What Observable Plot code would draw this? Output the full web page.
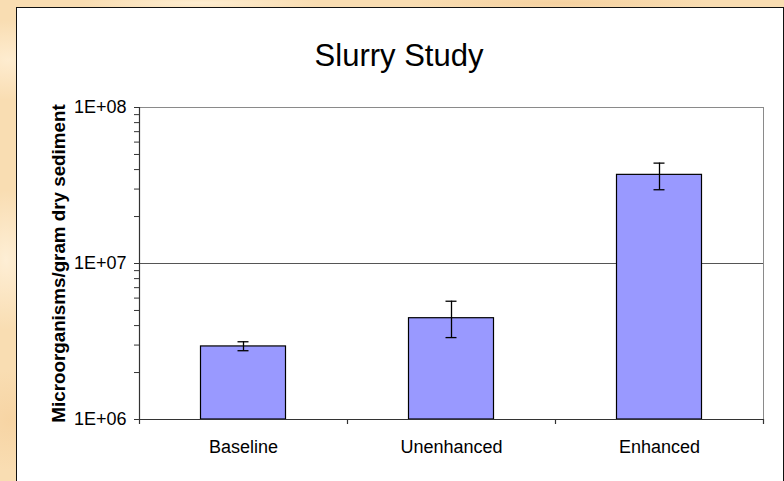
<!DOCTYPE html>
<html>
<head>
<meta charset="utf-8">
<script src="https://cdn.jsdelivr.net/npm/d3@7"></script>
<script src="https://cdn.jsdelivr.net/npm/@observablehq/plot@0.6"></script>
<style>
  html, body { margin: 0; padding: 0; }
  body {
    width: 784px; height: 481px; overflow: hidden; position: relative;
    font-family: "Liberation Sans", Arial, sans-serif;
    background-color: #f9ddb2;
    background-image:
      radial-gradient(ellipse 60px 40px at 8px 60px, rgba(255,240,215,0.8), transparent),
      radial-gradient(ellipse 40px 70px at 6px 260px, rgba(255,243,222,0.8), transparent),
      radial-gradient(ellipse 50px 50px at 10px 420px, rgba(246,210,160,0.8), transparent),
      radial-gradient(ellipse 120px 8px at 200px 3px, rgba(255,240,214,0.9), transparent),
      radial-gradient(ellipse 150px 8px at 560px 3px, rgba(245,208,158,0.9), transparent);
  }
  #panel {
    position: absolute; left: 16px; top: 7px; width: 768px; height: 500px;
    box-sizing: border-box; border: 1px solid #111; background: #fff;
  }
  #title {
    position: absolute; left: 16px; top: 40px; width: 766px;
    text-align: center; font-size: 31px; line-height: 31px; color: #000;
  }
  #chart { position: absolute; left: 17px; top: 80px; }
</style>
</head>
<body>
<div id="panel"></div>
<div id="title">Slurry Study</div>
<div id="chart"></div>
<script>
// Slurry study: microorganism counts per gram of dry sediment (log scale)
const categories = ["Baseline", "Unenhanced", "Enhanced"];
const means = [2.94e6, 4.46e6, 3.70e7];
const lower = [2.76e6, 3.35e6, 2.97e7];
const upper = [3.15e6, 5.73e6, 4.40e7];

const majorTicks = [1e6, 1e7, 1e8];
const tickLabels = ["1E+06", "1E+07", "1E+08"];
const minorSteps = [2, 3, 4, 5, 6, 7, 8, 9];
const yLabel = "Microorganisms/gram dry sediment";
const yMin = majorTicks[0];

const data = categories.map((c, i) => ({cat: c, mean: means[i], lo: lower[i], hi: upper[i]}));
const allTicks = majorTicks.concat(majorTicks.slice(0, -1).flatMap(m => minorSteps.map(s => m * s)));
const labelFor = new Map(majorTicks.map((t, i) => [t, tickLabels[i]]));

// Left axis line plus tick marks at the category boundaries
function axisFrame(index, scales, values, dims) {
  const {marginLeft, marginTop, height, marginBottom} = dims;
  const yb = height - marginBottom;
  const g = d3.create("svg:g").attr("stroke", "#333").attr("stroke-width", 1.2).attr("fill", "none");
  g.append("line").attr("x1", marginLeft + 0.5).attr("x2", marginLeft + 0.5).attr("y1", marginTop).attr("y2", yb + 0.5);
  const bw = scales.x.bandwidth();
  const bounds = categories.map(c => scales.x(c)).concat([scales.x(categories[categories.length - 1]) + bw]);
  for (const bx of bounds) {
    g.append("line").attr("x1", Math.round(bx) + 0.5).attr("x2", Math.round(bx) + 0.5).attr("y1", yb).attr("y2", yb + 5);
  }
  return g.node();
}

const chart = Plot.plot({
  width: 765,
  height: 399,
  marginLeft: 122,
  marginRight: 19,
  marginTop: 27,
  marginBottom: 60,
  style: {background: "transparent", fontFamily: "'Liberation Sans', Arial, sans-serif", color: "#000", overflow: "visible"},
  x: {domain: categories, padding: 0, label: null},
  y: {type: "log", domain: [1e6, 1e8], label: null},
  marks: [
    Plot.frame({stroke: "#8a8a8a"}),
    Plot.ruleY([majorTicks[1]], {stroke: "#555", strokeWidth: 1.1}),
    Plot.barY(data, {x: "cat", y1: () => yMin, y2: "mean", fill: "#9999ff", stroke: "#000", strokeWidth: 1.2, insetLeft: 61.5, insetRight: 61.5}),
    Plot.ruleY([yMin], {stroke: "#333", strokeWidth: 1.2}),
    axisFrame,
    Plot.ruleX(data, {x: "cat", y1: "lo", y2: "hi", stroke: "#000", strokeWidth: 1.3}),
    Plot.tickY(data, {x: "cat", y: "lo", stroke: "#000", strokeWidth: 1.3, insetLeft: 98.5, insetRight: 98.5}),
    Plot.tickY(data, {x: "cat", y: "hi", stroke: "#000", strokeWidth: 1.3, insetLeft: 98.5, insetRight: 98.5}),
    Plot.axisY({ticks: allTicks, tickSize: 5, tickPadding: 8, fontSize: 18, stroke: "#333",
      tickFormat: d => labelFor.get(d) ?? "", label: null}),
    Plot.axisX({tickSize: 0, tickPadding: 21, fontSize: 18, label: null}),
    Plot.text([yLabel], {frameAnchor: "left", textAnchor: "middle", rotate: -90, dx: -81, fontSize: 18.8, fontWeight: "bold", fill: "#000"})
  ]
});
document.getElementById("chart").appendChild(chart);
</script>
</body>
</html>
